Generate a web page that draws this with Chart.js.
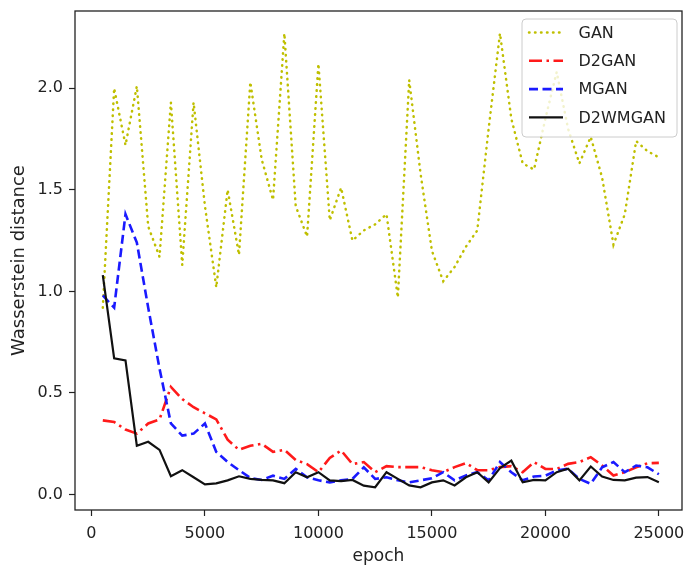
<!DOCTYPE html>
<html>
<head>
<meta charset="utf-8">
<script src="https://cdn.jsdelivr.net/npm/chart.js@4/dist/chart.umd.min.js"></script>
<style>
  html, body { margin: 0; padding: 0; background: #fff; }
  #wrap { width: 688px; height: 565px; }
</style>
</head>
<body>
<div id="wrap"><canvas id="chart" width="688" height="565"></canvas></div>
<script>
// epochs sampled every 500
const epochs = [500, 1000, 1500, 2000, 2500, 3000, 3500, 4000, 4500, 5000,
  5500, 6000, 6500, 7000, 7500, 8000, 8500, 9000, 9500, 10000,
  10500, 11000, 11500, 12000, 12500, 13000, 13500, 14000, 14500, 15000,
  15500, 16000, 16500, 17000, 17500, 18000, 18500, 19000, 19500, 20000,
  20500, 21000, 21500, 22000, 22500, 23000, 23500, 24000, 24500, 25000];

const gan = [0.92, 2.0, 1.72, 2.01, 1.32, 1.17, 1.93, 1.13, 1.93, 1.42,
  1.02, 1.5, 1.18, 2.03, 1.65, 1.45, 2.27, 1.42, 1.27, 2.12,
  1.35, 1.51, 1.25, 1.3, 1.33, 1.38, 0.97, 2.04, 1.58, 1.2,
  1.05, 1.12, 1.22, 1.3, 1.8, 2.27, 1.85, 1.63, 1.6, 1.85,
  2.08, 1.8, 1.63, 1.76, 1.56, 1.23, 1.38, 1.74, 1.69, 1.66];

const d2gan = [0.365, 0.357, 0.32, 0.30, 0.35, 0.37, 0.53, 0.47, 0.43, 0.40,
  0.37, 0.27, 0.22, 0.24, 0.25, 0.21, 0.22, 0.17, 0.15, 0.11,
  0.18, 0.217, 0.15, 0.16, 0.11, 0.14, 0.135, 0.135, 0.135, 0.12,
  0.11, 0.135, 0.155, 0.12, 0.12, 0.135, 0.14, 0.11, 0.16, 0.126,
  0.126, 0.151, 0.16, 0.184, 0.143, 0.094, 0.11, 0.134, 0.154, 0.156];

const mgan = [0.98, 0.92, 1.38, 1.24, 0.92, 0.62, 0.35, 0.29, 0.30, 0.35,
  0.21, 0.16, 0.12, 0.082, 0.072, 0.093, 0.077, 0.126, 0.085, 0.07,
  0.06, 0.07, 0.077, 0.134, 0.077, 0.085, 0.07, 0.06, 0.07, 0.08,
  0.11, 0.07, 0.094, 0.11, 0.07, 0.16, 0.11, 0.07, 0.089, 0.093,
  0.118, 0.127, 0.077, 0.053, 0.134, 0.16, 0.11, 0.143, 0.134, 0.10];

const d2wmgan = [1.08, 0.67, 0.66, 0.24, 0.26, 0.22, 0.09, 0.12, 0.085, 0.05,
  0.055, 0.07, 0.09, 0.077, 0.072, 0.07, 0.056, 0.11, 0.085, 0.11,
  0.07, 0.066, 0.072, 0.044, 0.036, 0.11, 0.077, 0.045, 0.036, 0.06,
  0.07, 0.045, 0.085, 0.11, 0.06, 0.13, 0.167, 0.06, 0.072, 0.07,
  0.11, 0.127, 0.07, 0.138, 0.089, 0.072, 0.07, 0.083, 0.086, 0.061];

const xTicks = [0, 5000, 10000, 15000, 20000, 25000];
const yTicks = [0.0, 0.5, 1.0, 1.5, 2.0];

const FONT = 'DejaVu Sans';
const TEXT = '#222';

function series(vals) {
  return vals.map((v, i) => ({ x: epochs[i], y: v }));
}

// axes box, like matplotlib spines
const framePlugin = {
  id: 'frame',
  afterDatasetsDraw(chart) {
    const { ctx, chartArea: a } = chart;
    ctx.save();
    ctx.strokeStyle = '#222';
    ctx.lineWidth = 1.3;
    ctx.strokeRect(a.left, a.top, a.right - a.left, a.bottom - a.top);
    ctx.restore();
  }
};

// boxed legend in the upper right of the plot
const legendPlugin = {
  id: 'boxLegend',
  afterDraw(chart) {
    const { ctx, chartArea: a } = chart;
    const w = 155, h = 118, rowH = 28.3, r = 4;
    const x0 = a.right - 5 - w, y0 = a.top + 8;
    ctx.save();
    ctx.beginPath();
    ctx.moveTo(x0 + r, y0);
    ctx.arcTo(x0 + w, y0, x0 + w, y0 + h, r);
    ctx.arcTo(x0 + w, y0 + h, x0, y0 + h, r);
    ctx.arcTo(x0, y0 + h, x0, y0, r);
    ctx.arcTo(x0, y0, x0 + w, y0, r);
    ctx.closePath();
    ctx.fillStyle = 'rgba(255,255,255,0.8)';
    ctx.fill();
    ctx.strokeStyle = '#ccc';
    ctx.lineWidth = 1;
    ctx.stroke();

    chart.data.datasets.forEach((ds, i) => {
      const y = y0 + 13.5 + i * rowH;
      ctx.beginPath();
      ctx.strokeStyle = ds.borderColor;
      ctx.lineWidth = ds.borderWidth;
      ctx.lineCap = ds.borderCapStyle || 'butt';
      ctx.setLineDash(ds.borderDash || []);
      ctx.moveTo(x0 + 7, y);
      ctx.lineTo(x0 + 41, y);
      ctx.stroke();
      ctx.setLineDash([]);
      ctx.fillStyle = TEXT;
      ctx.font = '16px "' + FONT + '"';
      ctx.textBaseline = 'middle';
      ctx.textAlign = 'left';
      ctx.fillText(ds.label, x0 + 56.5, y + 1);
    });
    ctx.restore();
  }
};

new Chart(document.getElementById('chart'), {
  type: 'line',
  data: {
    datasets: [
      { label: 'GAN', data: series(gan), borderColor: '#bfbf00', borderWidth: 2.5,
        borderDash: [0.5, 5.5], borderCapStyle: 'round', order: 3 },
      { label: 'D2GAN', data: series(d2gan), borderColor: '#ff1a1a', borderWidth: 2.6,
        borderDash: [13, 4.5, 2.5, 4.5], order: 2 },
      { label: 'MGAN', data: series(mgan), borderColor: '#1a1aff', borderWidth: 2.6,
        borderDash: [9, 4.5], order: 1 },
      { label: 'D2WMGAN', data: series(d2wmgan), borderColor: '#111', borderWidth: 2.2,
        order: 0 }
    ]
  },
  options: {
    responsive: false,
    animation: false,
    events: [],
    layout: { padding: { top: 11, right: 6, bottom: 0, left: 0 } },
    elements: { point: { radius: 0 }, line: { tension: 0, fill: false } },
    plugins: { legend: { display: false }, tooltip: { enabled: false } },
    scales: {
      x: {
        type: 'linear',
        min: -725,
        max: 26020,
        afterBuildTicks: s => { s.ticks = xTicks.map(v => ({ value: v })); },
        afterFit: s => { s.height = 55; s.paddingLeft = 0; s.paddingRight = 0; },
        ticks: {
          color: TEXT, padding: 8, maxRotation: 0, autoSkip: false,
          font: { family: FONT, size: 16 },
          callback: v => String(v)
        },
        grid: { drawOnChartArea: false, tickLength: 6, tickColor: '#222', tickWidth: 1.2 },
        border: { display: false },
        title: { display: true, text: 'epoch', color: TEXT, padding: 0,
          font: { family: FONT, size: 17, lineHeight: 1 } }
      },
      y: {
        min: -0.076,
        max: 2.38,
        afterBuildTicks: s => { s.ticks = yTicks.map(v => ({ value: v })); },
        afterFit: s => { s.width = 75; s.paddingTop = 0; s.paddingBottom = 0; },
        ticks: {
          color: TEXT, padding: 6, autoSkip: false,
          font: { family: FONT, size: 16 },
          callback: v => v.toFixed(1)
        },
        grid: { drawOnChartArea: false, tickLength: 6, tickColor: '#222', tickWidth: 1.2 },
        border: { display: false },
        title: { display: true, text: 'Wasserstein distance', color: TEXT,
          padding: { top: 9, bottom: 0 }, font: { family: FONT, size: 18 } }
      }
    }
  },
  plugins: [framePlugin, legendPlugin]
});
</script>
</body>
</html>
